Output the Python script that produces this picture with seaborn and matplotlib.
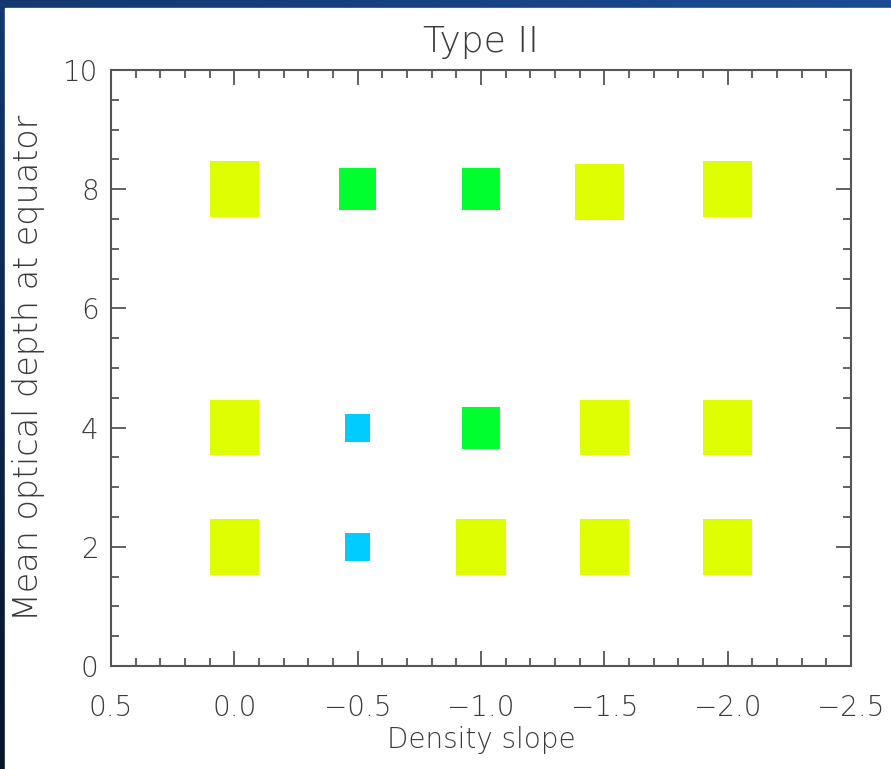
import numpy as np
import pandas as pd
import seaborn as sns
import matplotlib.pyplot as plt
from matplotlib.ticker import MultipleLocator
from matplotlib.patches import Rectangle

# values
slope = [0.0, -0.5, -1.0, -1.48, -2.0,
         0.0, -0.5, -1.0, -1.5, -2.0,
         0.0, -0.5, -1.0, -1.5, -2.0]
depth = [8, 8, 8, 7.95, 8,
         4, 4, 4, 4, 4,
         2, 2, 2, 2, 2]
kind = ['large', 'medium', 'medium', 'large', 'large',
        'large', 'small', 'medium', 'large', 'large',
        'large', 'small', 'large', 'large', 'large']
colors = {'large': '#DDFF00', 'medium': '#00FF2E', 'small': '#00CCFF'}
sizes = {'large': 1597, 'medium': 914, 'small': 406}

df = pd.DataFrame({'slope': slope, 'depth': depth, 'kind': kind})

sns.set_style('white')
plt.rcParams['font.family'] = ['DejaVu Sans']
txt = '#3a3a3a'

fig = plt.figure(figsize=(8.91, 7.69), dpi=100)

# dark blue frame
bg = fig.add_axes([0, 0, 1, 1], zorder=-10)
gx, gy = np.meshgrid(np.linspace(0, 1, 200), np.linspace(0, 1, 200))
bg.imshow(0.35 * gx + 0.65 * gy, cmap=sns.blend_palette(['#061428', '#1a4c94'], as_cmap=True),
          extent=[0, 1, 0, 1], aspect='auto', origin='lower', vmin=0, vmax=1)
bg.add_patch(Rectangle((5 / 891, 0), 1, 1 - 8 / 769, color='white'))
bg.set_axis_off()

ax = fig.add_axes([111 / 891, 1 - 666 / 769, 740 / 891, 596 / 769])
ax.set_facecolor('white')

rect = [(-1, -1.13), (1, -1.13), (1, 1.13), (-1, 1.13), (-1, -1.13)]
sns.scatterplot(data=df, x='slope', y='depth', hue='kind', size='kind',
                palette=colors, sizes=sizes, marker=rect, linewidth=0,
                edgecolor='none', legend=False, ax=ax)

ax.set_xlim(0.5, -2.5)
ax.set_ylim(0, 10)
ax.xaxis.set_major_locator(MultipleLocator(0.5))
ax.xaxis.set_minor_locator(MultipleLocator(0.1))
ax.yaxis.set_major_locator(MultipleLocator(2))
ax.yaxis.set_minor_locator(MultipleLocator(0.5))
ax.xaxis.set_major_formatter(lambda v, p: f'{v:.1f}'.replace('-', '\u2212'))
ax.yaxis.set_major_formatter(lambda v, p: f'{v:.0f}')

ax.tick_params(which='both', direction='in', bottom=True, left=True, top=True, right=True,
               color='#555555', width=1.3, labelsize=20, labelcolor=txt)
ax.tick_params(which='major', length=11)
ax.tick_params(which='minor', length=6)
ax.tick_params(axis='x', which='major', pad=20)
ax.tick_params(axis='y', which='major', pad=9)
for lab in ax.get_xticklabels() + ax.get_yticklabels():
    lab.set_fontweight('light')
for s in ax.spines.values():
    s.set_color('#555555')
    s.set_linewidth(1.5)

ax.set_title('Type II', fontsize=26, color=txt, pad=13, fontweight='light')
ax.set_xlabel('Density slope', fontsize=20, color=txt, labelpad=3, fontweight='light')
ax.set_ylabel('Mean optical depth at equator', fontsize=24, color=txt, labelpad=13, fontweight='light')

fig.savefig('out.png', dpi=100)
